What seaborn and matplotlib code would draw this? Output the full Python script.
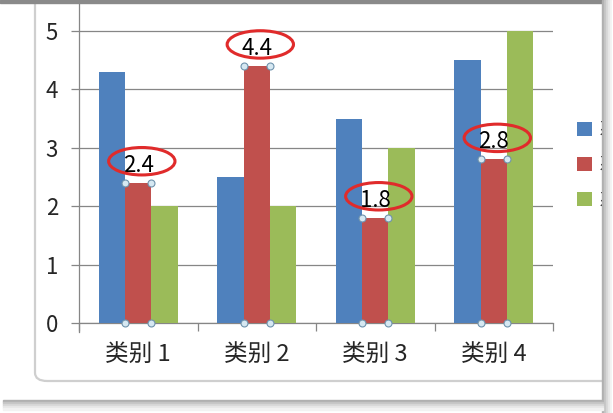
import numpy as np
import pandas as pd
import matplotlib
matplotlib.use('Agg')
import matplotlib.pyplot as plt
from matplotlib.patches import Ellipse, Rectangle, FancyBboxPatch
import seaborn as sns

# data
categories = ['类别 1', '类别 2', '类别 3', '类别 4']
series_names = ['系列 1', '系列 2', '系列 3']
series1 = [4.3, 2.5, 3.5, 4.5]
series2 = [2.4, 4.4, 1.8, 2.8]
series3 = [2.0, 2.0, 3.0, 5.0]
colors = ['#4F81BD', '#C0504D', '#9BBB59']
y_ticks = [0, 1, 2, 3, 4, 5]

df = pd.DataFrame({
    'cat': categories * 3,
    'series': [s for s in series_names for _ in categories],
    'value': series1 + series2 + series3,
})

sns.set_style('white')
plt.rcParams['font.family'] = ['Noto Sans CJK SC', 'DejaVu Sans']

W, H = 613, 413
fig = plt.figure(figsize=(W / 100, H / 100), dpi=100)
fig.patch.set_facecolor('white')


def fx(px):
    return px / W


def fy(py):
    # py measured from the top of the image
    return 1 - py / H


# chart frame (rounded) from the screenshot
frame = FancyBboxPatch((fx(35), fy(381)), fx(700), fy(-300) - fy(381),
                       boxstyle='round,pad=0,rounding_size=0.02',
                       transform=fig.transFigure, facecolor='white',
                       edgecolor='#cfcfcf', linewidth=1.6, zorder=-5)
fig.patches.append(frame)

# axes: y=0 at 323 px, 58.4 px per unit, x from 79 to 553 px
ymax = 5.6
ax = fig.add_axes([fx(79), fy(323), fx(553 - 79), ymax * 58.4 / H])
ax.set_facecolor('none')

sns.barplot(data=df, x='cat', y='value', hue='series', palette=colors,
            width=0.667, saturation=1, ax=ax, legend=True, zorder=3,
            linewidth=0, edgecolor='none')

ax.set_xlim(-0.5, len(categories) - 0.5)
ax.set_ylim(0, ymax)
ax.set_yticks(y_ticks)
ax.yaxis.grid(True, color='#868686', linewidth=0.9)
ax.set_axisbelow(True)
for s in ['top', 'right']:
    ax.spines[s].set_visible(False)
for s in ['left', 'bottom']:
    ax.spines[s].set_color('#868686')
    ax.spines[s].set_linewidth(0.9)
ax.set_xlabel('')
ax.set_ylabel('')
ax.tick_params(axis='y', length=6, width=0.9, color='#868686', pad=9,
               labelsize=16, direction='out', left=True)
ax.tick_params(axis='x', which='major', length=0, pad=14, labelsize=17)
ax.set_xticks(np.arange(-0.5, len(categories)), minor=True)
ax.tick_params(axis='x', which='minor', length=6, width=0.9, color='#868686',
               direction='out', bottom=True)
ax.spines['left'].set_bounds(-0.15, ymax)

# legend, mostly cut off by the right edge
handles, labels = ax.get_legend_handles_labels()
ax.get_legend().remove()
fig.legend(handles, labels, loc='upper left',
           bbox_to_anchor=(fx(568), fy(112)), frameon=False,
           fontsize=13, handlelength=0.85, handleheight=0.85,
           labelspacing=0.95, handletextpad=0.35, borderpad=0)

# data labels with red ellipses and selection handles on series 2
red_bars = ax.containers[1]
for bar, v in zip(red_bars, series2):
    xc = bar.get_x() + bar.get_width() / 2
    ty = v + 0.3
    ax.text(xc, ty, f'{v:.1f}', ha='center', va='center', fontsize=16,
            color='black', zorder=6)
    ax.add_patch(Ellipse((xc + 0.03, ty + 0.07), 0.56, 0.47, fill=False,
                         edgecolor='#E02B2B', linewidth=2.2, zorder=6,
                         clip_on=False))
    x0, x1 = bar.get_x(), bar.get_x() + bar.get_width()
    ax.plot([x0, x1, x0, x1], [v, v, 0, 0], linestyle='none', marker='o',
            markersize=5, markerfacecolor='#d6e8f2',
            markeredgecolor='#6f93ad', markeredgewidth=0.8,
            zorder=7, clip_on=False)

# screenshot shadows
fig.patches.append(Rectangle((0, fy(3)), 1, fy(0) - fy(3),
                             transform=fig.transFigure, color='#8a8a8a',
                             zorder=10))
for i, c in enumerate(['#b0b0b0', '#c4c4c4', '#d6d6d6', '#e6e6e6', '#f2f2f2']):
    fig.patches.append(Rectangle((fx(602 + 2 * i), 0), fx(2), 1,
                                 transform=fig.transFigure, color=c,
                                 zorder=10))
    fig.patches.append(Rectangle((fx(3), fy(402 + 2 * i)), fx(600), fy(0) - fy(2),
                                 transform=fig.transFigure, color=c,
                                 zorder=10))
fig.patches.append(Rectangle((fx(612), 0), fx(1), 1, transform=fig.transFigure,
                             color='white', zorder=11))

fig.savefig('out.png', dpi=100)
